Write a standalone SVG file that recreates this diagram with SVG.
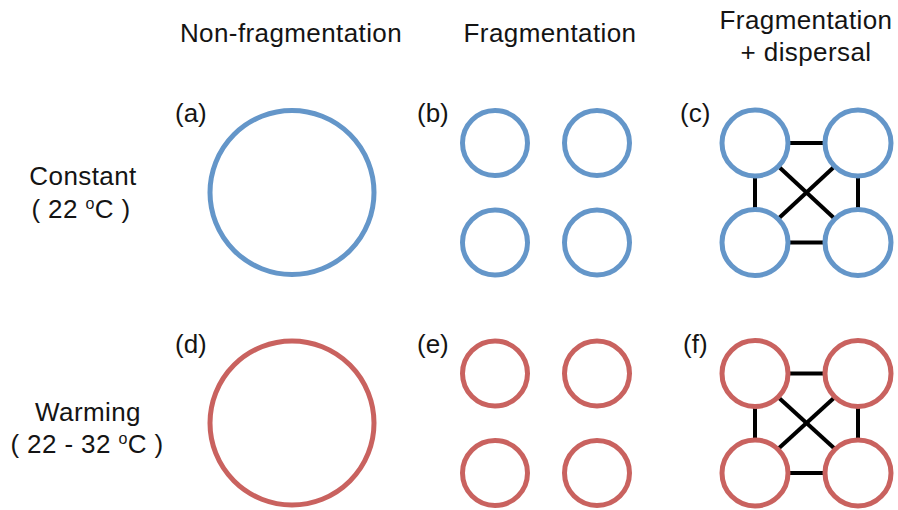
<svg xmlns="http://www.w3.org/2000/svg" width="898" height="510" viewBox="0 0 898 510">
<style>
  text { font-family: "Liberation Sans", Arial, sans-serif; font-size: 26px; fill: #141414; letter-spacing: 0.4px; }
  .hdr { text-anchor: middle; }
  .lbl { font-size: 26px; letter-spacing: 0; }
  .blue { fill: none; stroke: #6496c9; stroke-width: 5; }
  .red { fill: none; stroke: #c9625f; stroke-width: 5; }
  .link { stroke: #000; stroke-width: 4; }
  .sup { font-size: 16px; }
</style>
<rect width="898" height="510" fill="#fff"/>
<g id="headers">
  <text class="hdr" x="291" y="42">Non-fragmentation</text>
  <text class="hdr" x="550" y="42">Fragmentation</text>
  <text class="hdr" x="806" y="29">Fragmentation</text>
  <text class="hdr" x="806" y="61">+ dispersal</text>
</g>
<g id="row-labels">
  <text class="hdr" x="83" y="185">Constant</text>
  <text class="hdr" x="81" y="218">( 22 <tspan class="sup" dy="-9">o</tspan><tspan dy="9">C )</tspan></text>
  <text class="hdr" x="88" y="421">Warming</text>
  <text class="hdr" x="87" y="453">( 22 - 32 <tspan class="sup" dy="-9">o</tspan><tspan dy="9">C )</tspan></text>
</g>
<g id="panel-labels">
  <text class="lbl" x="175" y="122">(a)</text>
  <text class="lbl" x="417" y="122">(b)</text>
  <text class="lbl" x="680" y="122">(c)</text>
  <text class="lbl" x="175" y="353">(d)</text>
  <text class="lbl" x="417" y="353">(e)</text>
  <text class="lbl" x="683" y="353">(f)</text>
</g>
<g id="connectors">
  <line class="link" x1="787" y1="143" x2="826" y2="143"/>
  <line class="link" x1="787" y1="242.5" x2="826" y2="242.5"/>
  <line class="link" x1="755" y1="175" x2="755" y2="210"/>
  <line class="link" x1="858" y1="175" x2="858" y2="210"/>
  <line class="link" x1="778" y1="166" x2="835" y2="219"/>
  <line class="link" x1="835" y1="166" x2="778" y2="219"/>
  <line class="link" x1="787" y1="373.5" x2="826" y2="373.5"/>
  <line class="link" x1="787" y1="473" x2="826" y2="473"/>
  <line class="link" x1="755" y1="406" x2="755" y2="441"/>
  <line class="link" x1="858" y1="406" x2="858" y2="441"/>
  <line class="link" x1="778" y1="397" x2="835" y2="449"/>
  <line class="link" x1="835" y1="397" x2="778" y2="449"/>
</g>
<g id="a"><circle class="blue" cx="292" cy="192.5" r="82"/></g>
<g id="b">
  <circle class="blue" cx="495" cy="143" r="32.5"/>
  <circle class="blue" cx="597" cy="143" r="32.5"/>
  <circle class="blue" cx="495" cy="242.5" r="32.5"/>
  <circle class="blue" cx="597" cy="242.5" r="32.5"/>
</g>
<g id="c">
  <circle class="blue" cx="755" cy="143" r="33"/>
  <circle class="blue" cx="858" cy="143" r="33"/>
  <circle class="blue" cx="755" cy="242.5" r="33"/>
  <circle class="blue" cx="858" cy="242.5" r="33"/>
</g>
<g id="d"><circle class="red" cx="292" cy="423" r="82"/></g>
<g id="e">
  <circle class="red" cx="495" cy="373.5" r="32.5"/>
  <circle class="red" cx="597" cy="373.5" r="32.5"/>
  <circle class="red" cx="495" cy="473" r="32.5"/>
  <circle class="red" cx="597" cy="473" r="32.5"/>
</g>
<g id="f">
  <circle class="red" cx="755" cy="373.5" r="33"/>
  <circle class="red" cx="858" cy="373.5" r="33"/>
  <circle class="red" cx="755" cy="473" r="33"/>
  <circle class="red" cx="858" cy="473" r="33"/>
</g>
</svg>
